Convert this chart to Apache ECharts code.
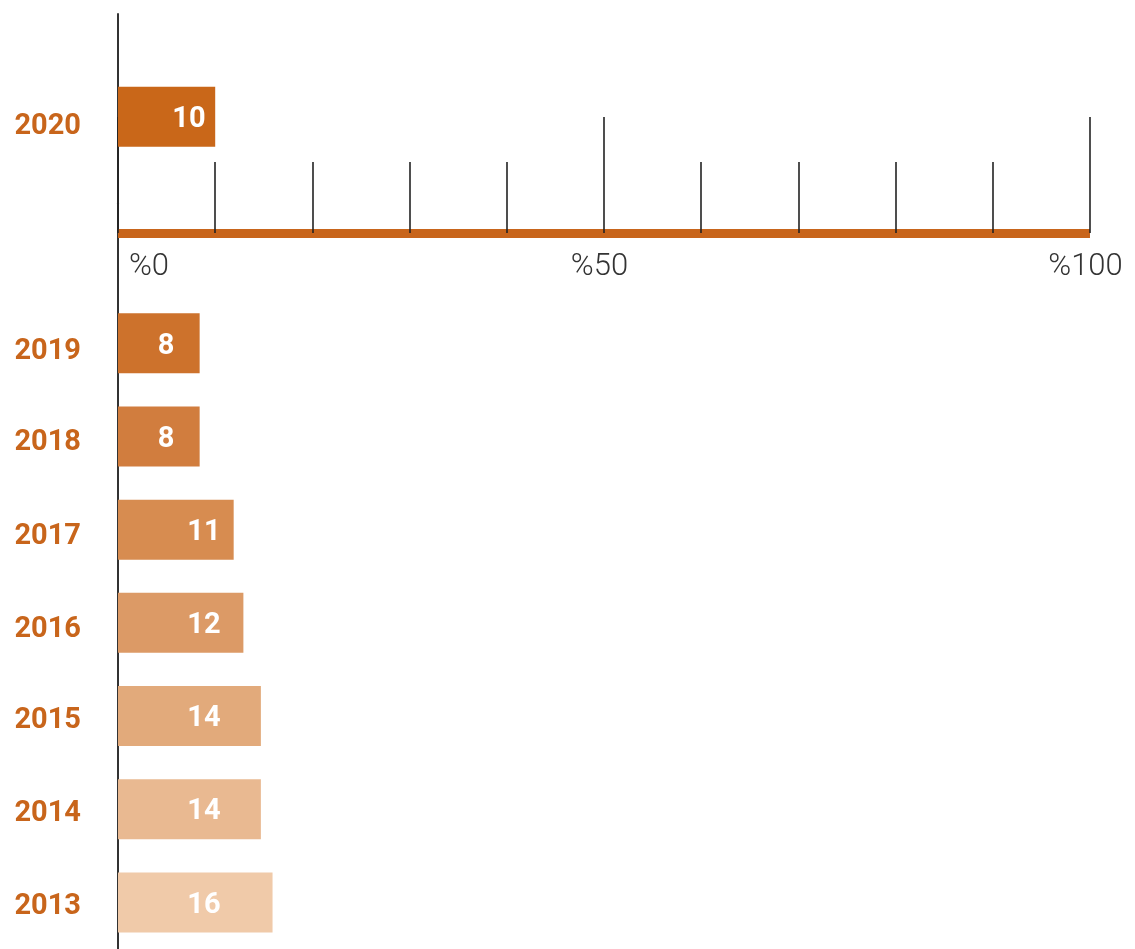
<!DOCTYPE html>
<html>
<head>
<meta charset="utf-8">
<script src="https://cdn.jsdelivr.net/npm/echarts@6/dist/echarts.min.js"></script>
<style>
html,body{margin:0;padding:0;background:#fff;}
#c{width:1135px;height:949px;}
</style>
</head>
<body>
<div id="c"></div>
<script>
// ---- data ----
var years = ['2020', '2019', '2018', '2017', '2016', '2015', '2014', '2013'];
var barValues = [10, 8.4, 8.4, 11.9, 12.9, 14.7, 14.7, 15.9];
var barLabels = ['10', '8', '8', '11', '12', '14', '14', '16'];
var axisTicks = [0, 50, 100];
var tickLabelPrefix = '%';

// ---- styles ----
var barColors = ['#C96719', '#CD722C', '#D17D3E', '#D78C50', '#DC9A66', '#E2AA7B', '#E9B991', '#F0CAA9'];
var labelCenterX = [71, 48, 48, 86, 86, 86, 86, 86];
var yearLabelShift = [10, 8, 6, 7, 7, 5, 5, 4];
var orange = '#C8651B';

function barItem(i) {
  return {
    value: barValues[i],
    itemStyle: { color: barColors[i] },
    label: {
      show: true,
      formatter: barLabels[i],
      position: [labelCenterX[i], '50%'],
      offset: [0, 3],
      align: 'center',
      verticalAlign: 'middle',
      color: '#fff',
      fontFamily: 'Roboto',
      fontWeight: 'bold',
      fontSize: 29
    }
  };
}

var topData = [barItem(0)];
var restCats = [''].concat(years.slice(1));
var restData = [null];
for (var i = 1; i < years.length; i++) restData.push(barItem(i));

var yearRich = {};
for (var k = 0; k < years.length; k++) {
  yearRich['y' + years[k]] = {
    color: orange, fontFamily: 'Roboto', fontWeight: 'bold', fontSize: 29,
    padding: [yearLabelShift[k] * 2, 0, 0, 0]
  };
}

function yLabel() {
  return {
    color: orange,
    fontFamily: 'Roboto',
    fontWeight: 'bold',
    fontSize: 29,
    margin: 37,
    align: 'right',
    formatter: function (v) { return v ? '{y' + v + '|' + v + '}' : ''; },
    rich: yearRich
  };
}

var chart = echarts.init(document.getElementById('c'), null, { renderer: 'canvas' });
chart.setOption({
  animation: false,
  backgroundColor: '#fff',
  grid: [
    { left: 118, right: 45, top: 14, height: 205.4 },
    { left: 118, right: 45, top: 203.5, height: 749.4 }
  ],
  xAxis: [
    {
      gridIndex: 0, type: 'value', min: axisTicks[0], max: axisTicks[axisTicks.length - 1],
      interval: axisTicks[1] - axisTicks[0],
      position: 'bottom', offset: 13.6,
      axisLine: { show: true, lineStyle: { color: orange, width: 9, cap: 'butt' } },
      axisTick: { show: true, inside: true, length: 116, lineStyle: { color: '#222', width: 1.6 } },
      minorTick: { show: true, splitNumber: 5, length: 71, lineStyle: { color: '#222', width: 1.6 } },
      splitLine: { show: false },
      axisLabel: {
        margin: 19,
        color: '#333',
        fontFamily: 'Roboto',
        fontWeight: 300,
        fontSize: 31,
        formatter: function (v) {
          if (v === 0) return '{z|' + tickLabelPrefix + v + '}';
          return '{n|' + tickLabelPrefix + v + '}';
        },
        rich: {
          z: { fontFamily: 'Roboto', fontWeight: 300, fontSize: 31, color: '#333', padding: [0, 0, 0, 62] },
          n: { fontFamily: 'Roboto', fontWeight: 300, fontSize: 31, color: '#333', padding: [0, 9, 0, 0] }
        }
      }
    },
    {
      gridIndex: 1, type: 'value', min: 0, max: 100, show: false
    }
  ],
  yAxis: [
    {
      gridIndex: 0, type: 'category', data: [years[0]],
      axisLine: { show: true, lineStyle: { color: '#333', width: 2 } },
      axisTick: { show: false },
      axisLabel: yLabel(),
      splitLine: { show: false }
    },
    {
      gridIndex: 1, type: 'category', data: restCats, inverse: true,
      axisLine: { show: true, lineStyle: { color: '#333', width: 2 } },
      axisTick: { show: false },
      axisLabel: yLabel(),
      splitLine: { show: false }
    }
  ],
  series: [
    { type: 'bar', xAxisIndex: 0, yAxisIndex: 0, data: topData, barWidth: 60 },
    { type: 'bar', xAxisIndex: 1, yAxisIndex: 1, data: restData, barWidth: 60 }
  ]
});
</script>
</body>
</html>
